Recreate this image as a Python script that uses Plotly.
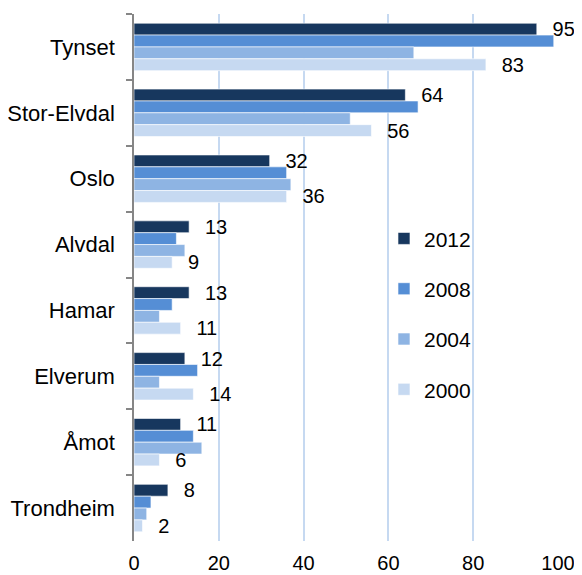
import plotly.graph_objects as go

categories = ["Tynset", "Stor-Elvdal", "Oslo", "Alvdal", "Hamar", "Elverum", "Åmot", "Trondheim"]
years = ["2012", "2008", "2004", "2000"]
v2012 = [95, 64, 32, 13, 13, 12, 11, 8]
v2008 = [99, 67, 36, 10, 9, 15, 14, 4]
v2004 = [66, 51, 37, 12, 6, 6, 16, 3]
v2000 = [83, 56, 36, 9, 11, 14, 6, 2]
colors = ["#17375E", "#558ED5", "#8EB4E3", "#C6D9F1"]
labelled = {"2012": True, "2008": False, "2004": False, "2000": True}

series = [v2012, v2008, v2004, v2000]
FONT = "Liberation Sans, Arial, sans-serif"

fig = go.Figure()
for name, vals, col in zip(years, series, colors):
    kw = {}
    if labelled[name]:
        kw = dict(text=["\u00a0\u00a0\u200a" + str(v) for v in vals], textposition="outside",
                  textfont=dict(size=20, color="#000000", family=FONT),
                  constraintext="none", cliponaxis=False)
    fig.add_trace(go.Bar(
        y=categories, x=vals, name=name, orientation="h",
        marker=dict(color=col, line=dict(color="#FFFFFF", width=0.6)),
        legendgroup=name, hoverinfo="x+name", **kw))

# page body has an 8px margin, so the figure is sized to the visible area
fig.update_layout(
    width=574, height=567,
    margin=dict(l=126, r=24, t=6, b=34, autoexpand=False),
    paper_bgcolor="white", plot_bgcolor="white",
    barmode="group", bargap=0.28, bargroupgap=0,
    font=dict(family=FONT, size=20, color="#000000"),
    legend=dict(x=0.5896, y=0.6124, xanchor="left", yanchor="top",
                font=dict(size=21), tracegroupgap=20, bgcolor="rgba(0,0,0,0)"),
    xaxis=dict(range=[0, 100], dtick=20, showgrid=True, gridcolor="#C6D9F1", gridwidth=1.5,
               zeroline=False, showline=False, ticks="", tickfont=dict(size=20),
               ticklabelstandoff=8, fixedrange=True, automargin=False),
    yaxis=dict(autorange="reversed", showline=True, linecolor="#868686", linewidth=1.5,
               ticks="outside", ticklen=6, tickcolor="#868686", tickwidth=1.5,
               tickson="boundaries", tickfont=dict(size=22), ticklabelstandoff=13,
               showgrid=False, fixedrange=True, automargin=False),
)

fig.write_html("out.html")
